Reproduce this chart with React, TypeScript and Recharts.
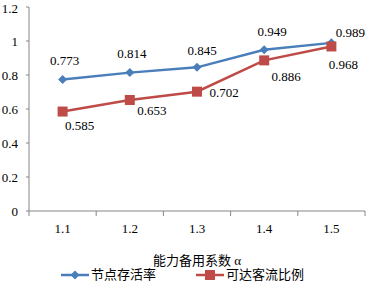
import * as React from "react";
import {
  LineChart,
  Line,
  XAxis,
  YAxis,
  Legend,
  LabelList,
  Label,
  ReferenceLine,
} from "recharts";

const alphaValues = [1.1, 1.2, 1.3, 1.4, 1.5];
const nodeSurvival = [0.773, 0.814, 0.845, 0.949, 0.989];
const reachableFlow = [0.585, 0.653, 0.702, 0.886, 0.968];
const boundaryTicks = [1.05, 1.15, 1.25, 1.35, 1.45, 1.55];
const yTicks = [0, 0.2, 0.4, 0.6, 0.8, 1, 1.2];

const SERIES_A = "节点存活率";
const SERIES_B = "可达客流比例";

// label nudges (dx, dy) per point
const blueOffsets = [
  [2, -19], [2, -19], [5, -17], [8, -18], [19, -10],
];
const redOffsets = [
  [17, 14], [22, 11], [27, 1], [22, 16], [12, 18],
];

const BLUE = "#4a7ebb";
const RED = "#be4b48";
const AXIS = "#868686";
const FONT = "'Liberation Serif', 'Times New Roman', 'Noto Sans CJK SC', serif";

const data = alphaValues.map((a, i) => ({
  a,
  s: nodeSurvival[i],
  r: reachableFlow[i],
}));

function Diamond({ cx, cy, fill }: any) {
  if (cx == null || cy == null) return null;
  const h = 4.5;
  return (
    <path
      d={`M${cx},${cy - h}L${cx + h},${cy}L${cx},${cy + h}L${cx - h},${cy}Z`}
      fill={fill}
    />
  );
}

function Square({ cx, cy, fill }: any) {
  if (cx == null || cy == null) return null;
  const h = 5;
  return <rect x={cx - h} y={cy - h} width={h * 2} height={h * 2} fill={fill} />;
}

// category boundary tick: only a short mark under the x axis
function TickMark(props: any) {
  const { x1, y1, y2 } = props;
  if (x1 == null) return null;
  const bottom = Math.max(y1, y2);
  return <line x1={x1} y1={bottom} x2={x1} y2={bottom + 5} stroke={AXIS} strokeWidth={1} />;
}

function makeLabel(offsets: number[][]) {
  return (props: any) => {
    const { x, y, value, index } = props;
    const [dx, dy] = offsets[index] || [0, 0];
    return (
      <text
        x={x + dx}
        y={y + dy}
        textAnchor="middle"
        dominantBaseline="central"
        fontFamily={FONT}
        fontSize={13}
        fill="#000"
      >
        {value.toFixed(3)}
      </text>
    );
  };
}

function LegendContent() {
  const item = (color: string, marker: "d" | "s", text: string, gap: number) => (
    <div style={{ display: "flex", alignItems: "center", marginRight: gap }}>
      <svg width={28} height={12}>
        <line x1={0} y1={6} x2={28} y2={6} stroke={color} strokeWidth={2.5} />
        {marker === "d" ? (
          <path d="M14,1.5L18.5,6L14,10.5L9.5,6Z" fill={color} />
        ) : (
          <rect x={9} y={1} width={10} height={10} fill={color} />
        )}
      </svg>
      <span style={{ marginLeft: 2 }}>{text}</span>
    </div>
  );
  return (
    <div
      style={{
        display: "flex",
        justifyContent: "center",
        fontFamily: FONT,
        fontSize: 13,
        color: "#000",
        height: 16,
        lineHeight: "16px",
      }}
    >
      {item(BLUE, "d", SERIES_A, 40)}
      {item(RED, "s", SERIES_B, 0)}
    </div>
  );
}

export default function App() {
  return (
    <div style={{ position: "absolute", left: 0, top: 0, background: "#fff" }}>
      <LineChart
        width={372}
        height={283}
        data={data}
        margin={{ top: 7, right: 7, left: 0, bottom: 0 }}
      >
        <XAxis
          dataKey="a"
          type="number"
          domain={[1.05, 1.55]}
          ticks={alphaValues}
          tickFormatter={(v: number) => v.toFixed(1)}
          axisLine={{ stroke: AXIS }}
          tickLine={false}
          tickSize={0}
          tickMargin={13}
          height={56}
          tick={{ fill: "#000", fontFamily: FONT, fontSize: 13 }}
        >
          <Label
            value="能力备用系数 α"
            position="insideBottom"
            offset={2}
            style={{ fill: "#000", fontFamily: FONT, fontSize: 13 }}
          />
        </XAxis>
        <YAxis
          width={29}
          domain={[0, 1.2]}
          ticks={yTicks}
          tickSize={3}
          tickMargin={8}
          axisLine={{ stroke: AXIS }}
          tickLine={{ stroke: AXIS }}
          tick={{ fill: "#000", fontFamily: FONT, fontSize: 13 }}
        />
        {boundaryTicks.map((b) => (
          <ReferenceLine key={b} x={b} ifOverflow="visible" shape={<TickMark />} />
        ))}
        <Legend verticalAlign="bottom" height={16} content={<LegendContent />} />
        <Line
          dataKey="s"
          name={SERIES_A}
          stroke={BLUE}
          strokeWidth={2.5}
          dot={(p: any) => <Diamond key={`d${p.index}`} cx={p.cx} cy={p.cy} fill={BLUE} />}
          activeDot={false}
          isAnimationActive={false}
        >
          <LabelList dataKey="s" content={makeLabel(blueOffsets)} />
        </Line>
        <Line
          dataKey="r"
          name={SERIES_B}
          stroke={RED}
          strokeWidth={2.5}
          dot={(p: any) => <Square key={`s${p.index}`} cx={p.cx} cy={p.cy} fill={RED} />}
          activeDot={false}
          isAnimationActive={false}
        >
          <LabelList dataKey="r" content={makeLabel(redOffsets)} />
        </Line>
      </LineChart>
    </div>
  );
}
